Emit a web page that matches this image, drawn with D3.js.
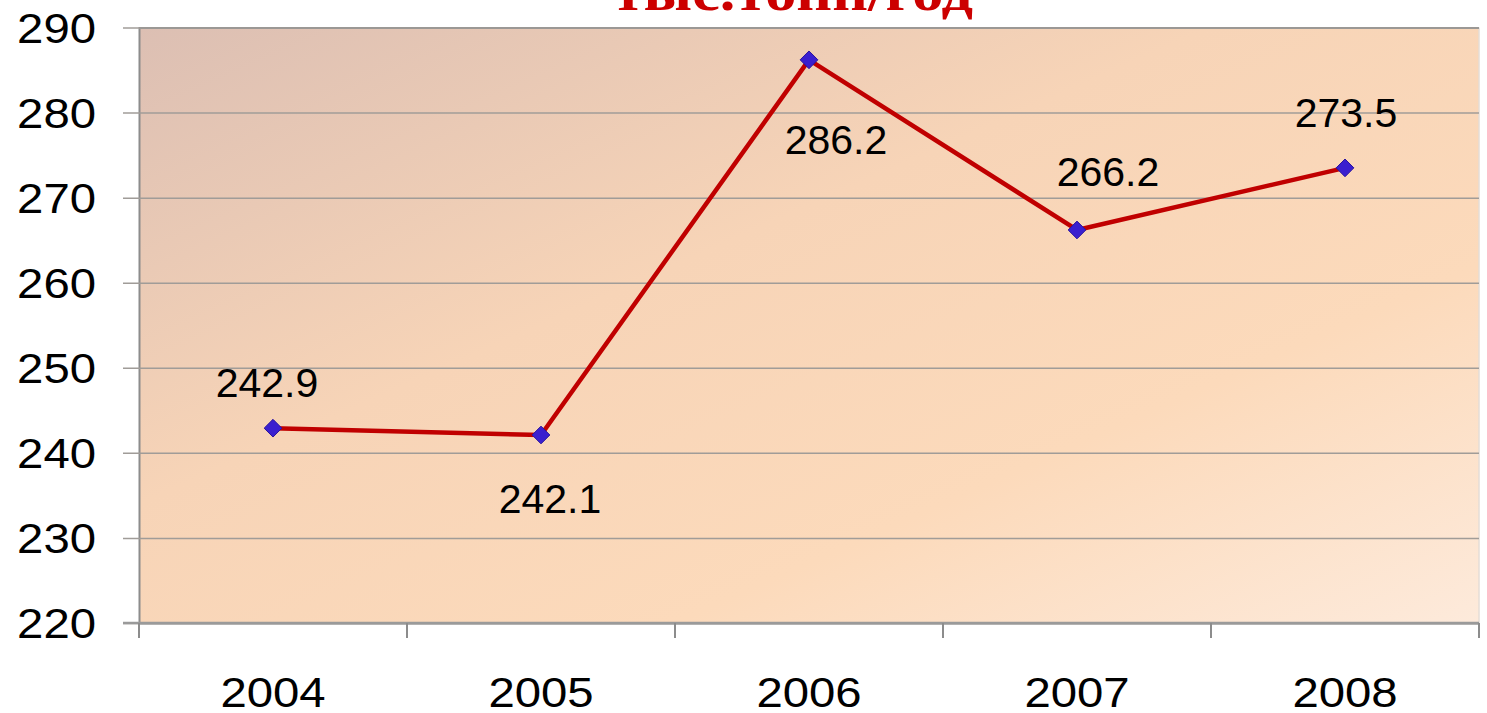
<!DOCTYPE html>
<html>
<head>
<meta charset="utf-8">
<script src="https://cdn.jsdelivr.net/npm/d3@7"></script>
<style>
	body { margin: 0; background: #fff; }
	svg { display: block; }
</style>
</head>
<body>
<div id="chart"></div>
<script>
//===== DATA =====//

var years = ['2004', '2005', '2006', '2007', '2008'];
var values = [242.9, 242.1, 286.2, 266.2, 273.5];
var yTicks = [220, 230, 240, 250, 260, 270, 280, 290];
var labelOffsets = [-31, 78, 94, -44, -41]; // baseline offset of each value label
var labelShifts = [-6, 9, 27, 31, 1];       // horizontal shift of each value label
var title = 'тыс.тонн/год';

//===== CHART =====//

var width = 1487, height = 713;
var plotLeft = 139, plotRight = 1479, plotTop = 27.5, plotBottom = 623;
var stretch = 1.1; // axis text in the original is a bit wide

var svg = d3.select('#chart')
	.append('svg')
	.attr('width', width)
	.attr('height', height);

var defs = svg.append('defs');
var grad = defs.append('linearGradient')
	.attr('id', 'bg')
	.attr('x1', '0%').attr('y1', '0%')
	.attr('x2', '100%').attr('y2', '100%');
grad.append('stop').attr('offset', '0%').attr('stop-color', '#dcbfb3');
grad.append('stop').attr('offset', '40%').attr('stop-color', '#f7d4b7');
grad.append('stop').attr('offset', '70%').attr('stop-color', '#fcdabb');
grad.append('stop').attr('offset', '100%').attr('stop-color', '#fdeadb');

var x = d3.scaleBand().domain(years).range([plotLeft, plotRight]);
var y = d3.scaleLinear().domain([220, 290]).range([plotBottom, plotTop]);

// plot area
svg.append('rect')
	.attr('x', plotLeft).attr('y', plotTop)
	.attr('width', plotRight - plotLeft).attr('height', plotBottom - plotTop)
	.attr('fill', 'url(#bg)');

svg.append('line')
	.attr('x1', plotRight).attr('x2', plotRight)
	.attr('y1', plotTop).attr('y2', plotBottom)
	.attr('stroke', '#e4dcd6').attr('stroke-width', 1.5);

// gridlines + y axis
var yAxis = d3.axisLeft(y)
	.tickValues(yTicks)
	.tickSize(-(plotRight - plotLeft))
	.tickPadding(0)
	.tickFormat('');
svg.append('g')
	.attr('transform', 'translate(' + plotLeft + ',0)')
	.call(yAxis)
	.call(function (g) {
		g.select('.domain').attr('stroke', '#8c8c8c').attr('stroke-width', 2);
		g.selectAll('.tick line')
			.attr('x1', -16)
			.attr('stroke', '#a09c98').attr('stroke-width', 1.5);
	});

svg.append('g')
	.selectAll('g')
	.data(yTicks)
	.enter()
	.append('g')
	.attr('transform', function (d) { return 'translate(96,' + (y(d) + 15) + ') scale(' + stretch + ',1)'; })
	.append('text')
	.attr('text-anchor', 'end')
	.attr('font-family', 'Liberation Sans, Arial, sans-serif')
	.attr('font-size', 43)
	.attr('fill', '#000')
	.text(function (d) { return d; });

// x axis
var bounds = years.map(function (d) { return x(d); }).concat([plotRight]);
svg.append('line')
	.attr('x1', plotLeft - 16).attr('x2', plotRight)
	.attr('y1', plotBottom).attr('y2', plotBottom)
	.attr('stroke', '#9a9a9a').attr('stroke-width', 2.5);
svg.append('g')
	.selectAll('line')
	.data(bounds)
	.enter()
	.append('line')
	.attr('x1', function (d) { return d; })
	.attr('x2', function (d) { return d; })
	.attr('y1', plotBottom).attr('y2', plotBottom + 15)
	.attr('stroke', '#8c8c8c').attr('stroke-width', 2);

svg.append('g')
	.selectAll('g')
	.data(years)
	.enter()
	.append('g')
	.attr('transform', function (d) { return 'translate(' + (x(d) + x.bandwidth() / 2) + ',707) scale(' + stretch + ',1)'; })
	.append('text')
	.attr('text-anchor', 'middle')
	.attr('font-family', 'Liberation Sans, Arial, sans-serif')
	.attr('font-size', 43)
	.attr('fill', '#000')
	.text(function (d) { return d; });

// series
var pts = years.map(function (d, i) {
	return {year: d, value: values[i], dy: labelOffsets[i], dx: labelShifts[i]};
});
var cx = function (d) { return x(d.year) + x.bandwidth() / 2; };
var line = d3.line()
	.x(cx)
	.y(function (d) { return y(d.value); });

svg.append('path')
	.datum(pts)
	.attr('d', line)
	.attr('fill', 'none')
	.attr('stroke', '#c00000')
	.attr('stroke-width', 4.5)
	.attr('stroke-linejoin', 'round');

svg.append('g')
	.selectAll('path')
	.data(pts)
	.enter()
	.append('path')
	.attr('d', d3.symbol().type(d3.symbolDiamond2).size(200))
	.attr('transform', function (d) { return 'translate(' + cx(d) + ',' + y(d.value) + ')'; })
	.attr('fill', '#3a1fcf')
	.attr('stroke', '#2a14a0')
	.attr('stroke-width', 1);

svg.append('g')
	.selectAll('text')
	.data(pts)
	.enter()
	.append('text')
	.attr('x', function (d) { return cx(d) + d.dx; })
	.attr('y', function (d) { return y(d.value) + d.dy; })
	.attr('text-anchor', 'middle')
	.attr('font-family', 'Liberation Sans, Arial, sans-serif')
	.attr('font-size', 41)
	.attr('fill', '#000')
	.text(function (d) { return d.value.toFixed(1); });

// title, cut off at the top like the original
svg.append('text')
	.attr('x', 793)
	.attr('y', 10)
	.attr('text-anchor', 'middle')
	.attr('font-family', 'Liberation Serif, Times New Roman, serif')
	.attr('font-weight', 'bold')
	.attr('font-size', 54)
	.attr('fill', '#cc0000')
	.attr('textLength', 360)
	.attr('lengthAdjust', 'spacingAndGlyphs')
	.text(title);
</script>
</body>
</html>
